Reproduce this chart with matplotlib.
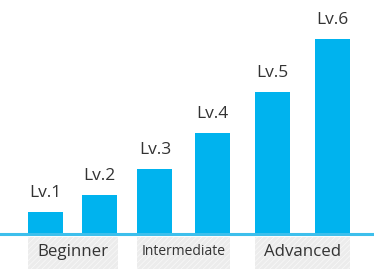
import matplotlib

matplotlib.use("Agg")

import matplotlib.pyplot as plt
from matplotlib.patches import Rectangle

# data
levels = ["Lv.1", "Lv.2", "Lv.3", "Lv.4", "Lv.5", "Lv.6"]
values = [22.5, 39, 65, 101.5, 142.5, 195]
groups = ["Beginner", "Intermediate", "Advanced"]

# layout (pixel-like units)
BAR_X = [45.5, 99.7, 155, 212.5, 272.5, 332.5]
BAR_W = 35
BAR_COLOR = "#00b3ee"
LINE_COLOR = "#3dbfec"
TEXT_COLOR = "#333333"

plt.rcParams["font.family"] = ["Open Sans", "DejaVu Sans"]
plt.rcParams["hatch.linewidth"] = 0.6

fig = plt.figure(figsize=(3.74, 2.69), dpi=100)
base = 234.3
ax = fig.add_axes([0, (269 - base) / 269, 1, base / 269])
ax.set_xlim(0, 374)
ax.set_ylim(0, base)
ax.axis("off")

bars = ax.bar(BAR_X, values, width=BAR_W, color=BAR_COLOR, zorder=2)
for b, lab in zip(bars, levels):
    ax.annotate(lab, (b.get_x() + b.get_width() / 2, b.get_height()),
                xytext=(0, 8), textcoords="offset points",
                ha="center", va="bottom", fontsize=12.5, color=TEXT_COLOR)

ax.axhline(0, color=LINE_COLOR, lw=2.2, zorder=3, clip_on=False)

sizes = [12.2, 10, 12.2]
for i, (g, fs) in enumerate(zip(groups, sizes)):
    left = BAR_X[2 * i] - BAR_W / 2
    right = BAR_X[2 * i + 1] + BAR_W / 2 + 0.5
    ax.add_patch(Rectangle((left, -2.4), right - left, -40, facecolor="#ececec",
                           edgecolor="#f7f7f7", hatch="//////", lw=0, clip_on=False))
    ax.text((left + right) / 2, -17.5, g, ha="center", va="center",
            fontsize=fs, color=TEXT_COLOR, clip_on=False)

fig.savefig("out.png", dpi=100)
